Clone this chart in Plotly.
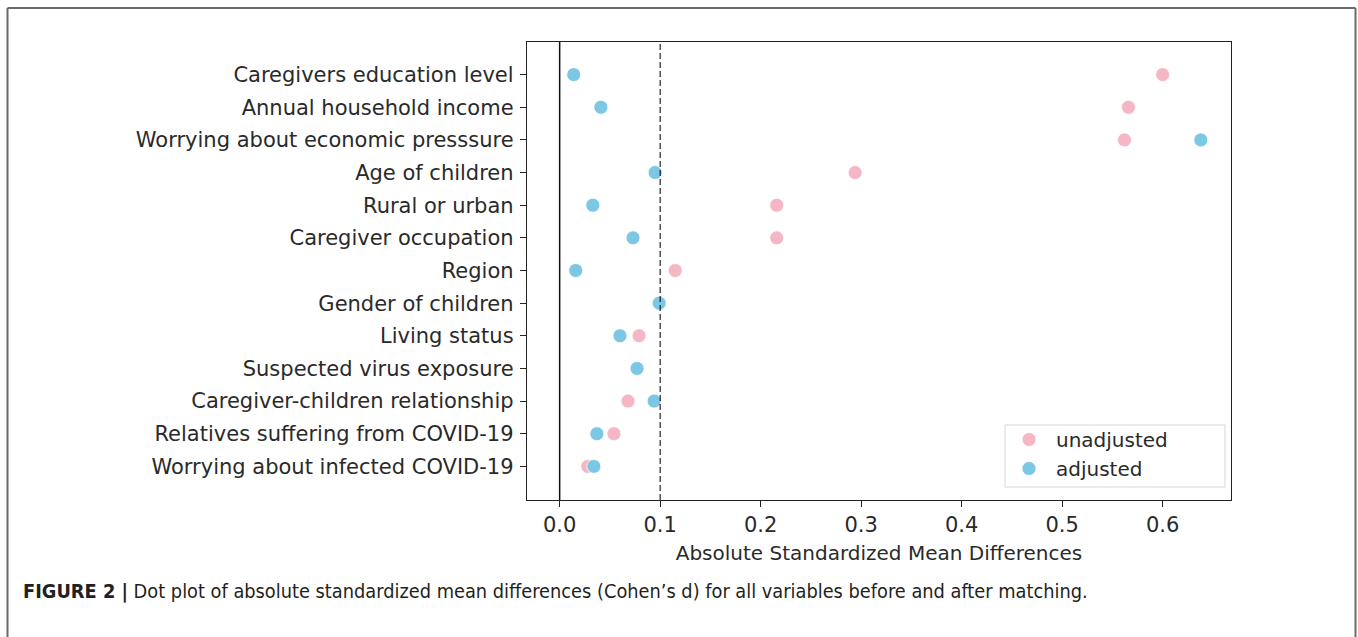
import plotly.graph_objects as go

categories = [
    "Caregivers education level",
    "Annual household income",
    "Worrying about economic presssure",
    "Age of children",
    "Rural or urban",
    "Caregiver occupation",
    "Region",
    "Gender of children",
    "Living status",
    "Suspected virus exposure",
    "Caregiver-children relationship",
    "Relatives suffering from COVID-19",
    "Worrying about infected COVID-19",
]
unadjusted = [0.600, 0.566, 0.562, 0.294, 0.216, 0.216, 0.115, 0.099, 0.079, 0.077, 0.068, 0.054, 0.028]
adjusted = [0.014, 0.041, 0.638, 0.095, 0.033, 0.073, 0.016, 0.099, 0.060, 0.077, 0.094, 0.037, 0.034]
x_ticks = [0.0, 0.1, 0.2, 0.3, 0.4, 0.5, 0.6]
x_tick_labels = ["0.0", "0.1", "0.2", "0.3", "0.4", "0.5", "0.6"]
threshold = 0.1

W, H = 1358, 637
px = lambda v: v / W
py = lambda v: 1 - v / H

fig = go.Figure()
fig.add_trace(go.Scatter(
    x=unadjusted, y=categories, mode="markers", name="unadjusted",
    marker=dict(size=14, color="#F5B7C3", line=dict(color="white", width=0.8)),
))
fig.add_trace(go.Scatter(
    x=adjusted, y=categories, mode="markers", name="adjusted",
    marker=dict(size=14, color="#7CC7E3", line=dict(color="white", width=0.8)),
))

FS = 21
tickfont = dict(family="DejaVu Sans", size=FS, color="#2a2a2a")

fig.update_layout(
    width=W, height=H,
    margin=dict(l=0, r=0, t=0, b=0),
    paper_bgcolor="white", plot_bgcolor="white",
    showlegend=True,
    xaxis=dict(
        domain=[px(527), px(1231)],
        range=[-0.0325, 0.668],
        tickvals=x_ticks, ticktext=x_tick_labels,
        ticks="outside", ticklen=6, tickwidth=1.2, tickcolor="#222",
        showgrid=False, zeroline=False,
        showline=True, linecolor="#222", linewidth=1.4, mirror=True,
        tickfont=tickfont,
        title=dict(text="Absolute Standardized Mean Differences",
                   font=dict(family="DejaVu Sans", size=FS - 1, color="#2a2a2a"), standoff=9),
    ),
    yaxis=dict(
        domain=[py(500), py(42)],
        type="category",
        categoryorder="array", categoryarray=categories,
        range=[len(categories) - 1 + 1.03, -1.0],
        ticks="outside", ticklen=6, tickwidth=1.2, tickcolor="#222",
        showgrid=False, zeroline=False,
        showline=True, linecolor="#222", linewidth=1.4, mirror=True,
        tickfont=tickfont, ticklabelstandoff=2,
    ),
    legend=dict(
        x=px(1002), y=py(420), xanchor="left", yanchor="top",
        bgcolor="rgba(0,0,0,0)", borderwidth=0,
        font=dict(family="DejaVu Sans", size=FS - 1, color="#2a2a2a"),
        itemwidth=44, tracegroupgap=0,
    ),
)

# legend frame
fig.add_shape(type="rect", xref="paper", yref="paper",
              x0=px(1005), x1=px(1225), y0=py(487), y1=py(425),
              line=dict(color="#d6d6d6", width=1), fillcolor="white", layer="above")

# reference lines (above markers)
fig.add_shape(type="line", xref="x", yref="paper", x0=0, x1=0,
              y0=py(500), y1=py(42), line=dict(color="#111", width=1.5), layer="above")
fig.add_shape(type="line", xref="x", yref="paper", x0=threshold, x1=threshold,
              y0=py(500), y1=py(42), line=dict(color="#111", width=1.1, dash="6px,3px"), layer="above")

# outer figure border (top, left, right)
for (x0, y0, x1, y1) in [(7.5, 8, 1355.5, 8), (7.5, 8, 7.5, 640), (1355.5, 8, 1355.5, 640)]:
    fig.add_shape(type="line", xref="paper", yref="paper",
                  x0=px(x0), x1=px(x1), y0=py(y0), y1=py(y1),
                  line=dict(color="#6a6a6a", width=2))

fig.add_annotation(
    xref="paper", yref="paper", x=px(21), y=py(591), xanchor="left", yanchor="middle",
    showarrow=False,
    text="<b>FIGURE 2 |</b> Dot plot of absolute standardized mean differences (Cohen\u2019s d) for all variables before and after matching.",
    font=dict(family="DejaVu Sans Condensed, Liberation Sans Narrow, Liberation Sans", size=19.8, color="#231f20"),
)

fig.write_html(
    "out.html",
    config={"displayModeBar": False},
    post_script="document.body.style.margin='0';document.body.style.overflow='hidden';",
)
